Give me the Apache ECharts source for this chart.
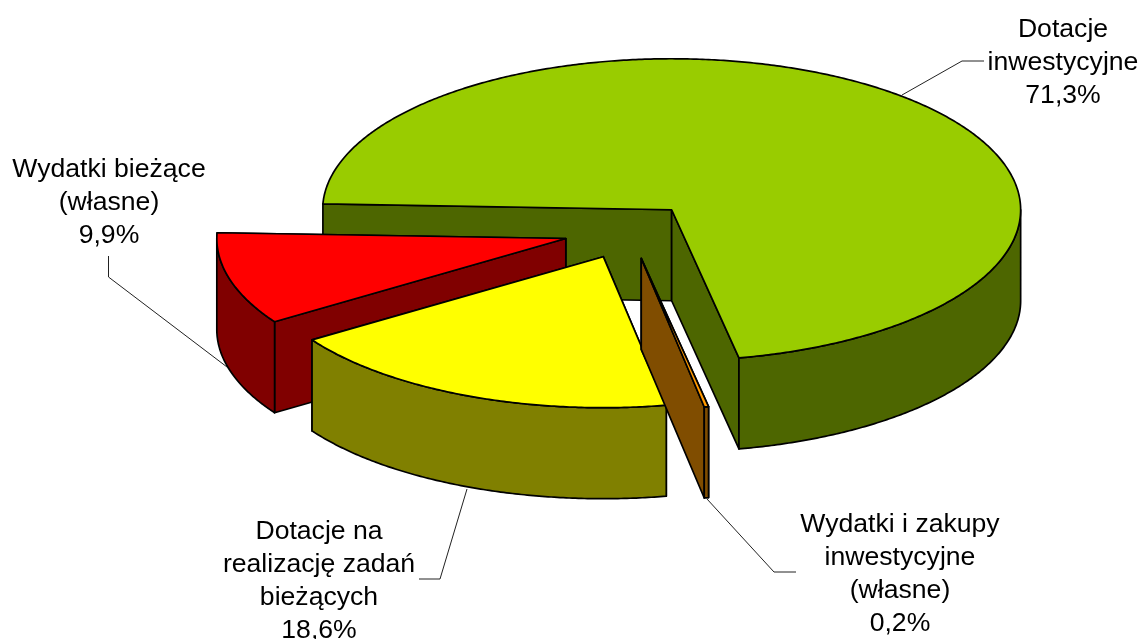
<!DOCTYPE html>
<html><head><meta charset="utf-8">
<style>html,body{margin:0;padding:0;background:#fff}#c{width:1139px;height:639px}</style>
<script src="https://cdn.jsdelivr.net/npm/echarts@6/dist/echarts.min.js"></script>
</head><body><div id="c"></div>
<script>
// Data, clockwise from the first slice
const categories = ['Dotacje\ninwestycyjne', 'Wydatki i zakupy\ninwestycyjne\n(własne)', 'Dotacje na\nrealizację zadań\nbieżących', 'Wydatki bieżące\n(własne)'];
const values = [71.3, 0.2, 18.6, 9.9];
const topColors = ['#99CC00', '#FF9900', '#FFFF00', '#FF0000'];
const wallColors = ['#4D6600', '#804D00', '#808000', '#800000'];
// Layout
const labelCentres = [[1063, 63], [900, 574], [319, 581], [109, 203]];
const leaders = [
  [[902, 95], [962, 61], [984, 61]],
  [[707, 499], [774, 572], [796, 572]],
  [[467, 489], [440, 579], [419, 579]],
  [[108.5, 256], [108.5, 277], [227, 367]]
];
const paintOrder = [0, 3, 2, 1];
const CX = 629, CY = 231, RX = 349, RY = 151, DEPTH = 91, EXPLODE_X = 0.188, EXPLODE_Y = 0.185, START = -87.8;

const rad = d => d * Math.PI / 180;
const total = values.reduce((a, b) => a + b, 0);
const spans = [];
values.reduce((s, v) => { const e = s + v / total * 360; spans.push([s, e]); return e; }, START);

function renderSlice(params, api) {
  const i = paintOrder[params.dataIndex];
  const [a, b] = spans[i];
  const mid = rad((a + b) / 2);
  const ox = CX + EXPLODE_X * RX * Math.sin(mid), oy = CY - EXPLODE_Y * RY * Math.cos(mid);
  const pt = (t, d) => [ox + RX * Math.sin(rad(t)), oy - RY * Math.cos(rad(t)) + (d || 0)];
  const arc = (s, e, d) => { const p = [], n = Math.max(2, Math.ceil((e - s) * 2)); for (let k = 0; k <= n; k++) p.push(pt(s + (e - s) * k / n, d)); return p; };
  const apex = [ox, oy], apexB = [ox, oy + DEPTH];
  const edge = { stroke: '#000', lineWidth: 1.7, lineJoin: 'round' };
  const poly = (points, fill) => ({ type: 'polygon', silent: true, shape: { points }, style: Object.assign({ fill }, edge) });
  const children = [];
  // radial faces: the one reaching higher on screen is further back, so it goes first
  [a, b].sort((p, q) => pt(p)[1] - pt(q)[1]).forEach(t => {
    children.push(poly([apex, pt(t), pt(t, DEPTH), apexB], wallColors[i]));
  });
  const ws = Math.max(a, 90), we = Math.min(b, 270);
  if (we > ws) children.push(poly(arc(ws, we, 0).concat(arc(ws, we, DEPTH).reverse()), wallColors[i]));
  children.push(poly([apex].concat(arc(a, b, 0)), topColors[i]));
  children.push({ type: 'polyline', silent: true, shape: { points: leaders[i] }, style: { stroke: '#222', lineWidth: 1, fill: null } });
  children.push({ type: 'text', silent: true, style: {
    x: labelCentres[i][0], y: labelCentres[i][1],
    text: categories[i] + '\n' + values[i].toFixed(1).replace('.', ',') + '%',
    fontFamily: '"Liberation Sans", Arial, sans-serif', fontSize: 26.6, lineHeight: 33,
    fill: '#000', align: 'center', verticalAlign: 'middle'
  } });
  return { type: 'group', children };
}

const chart = echarts.init(document.getElementById('c'), null, { renderer: 'canvas' });
chart.setOption({
  animation: false,
  backgroundColor: '#fff',
  series: [{
    type: 'custom',
    coordinateSystem: 'none',
    renderItem: renderSlice,
    data: paintOrder.map(i => ({ name: categories[i], value: values[i] }))
  }]
});
</script></body></html>
